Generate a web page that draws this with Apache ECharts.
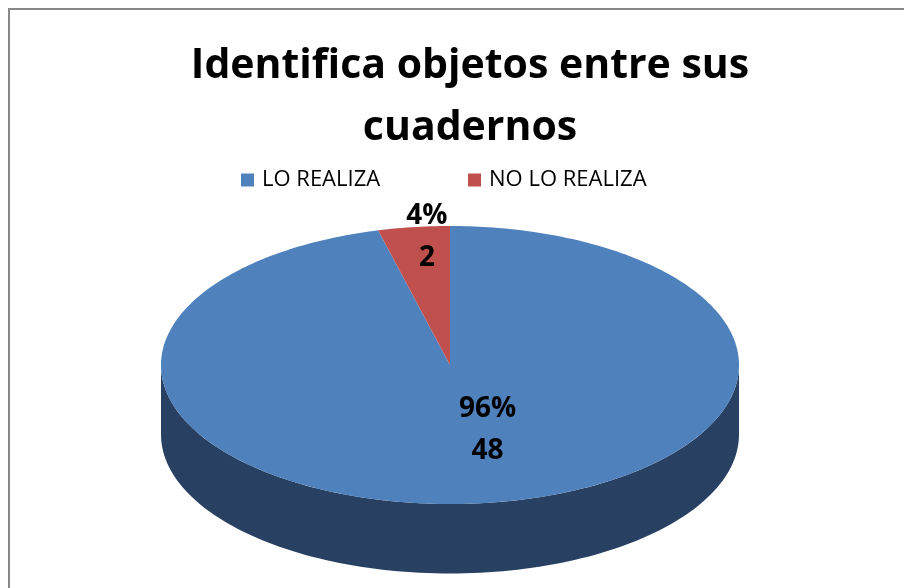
<!DOCTYPE html>
<html>
<head>
<meta charset="utf-8">
<script src="https://cdn.jsdelivr.net/npm/echarts@6/dist/echarts.min.js"></script>
<style>
  html, body { margin: 0; padding: 0; background: #fff; }
  #chart { width: 904px; height: 588px; }
</style>
</head>
<body>
<div id="chart"></div>
<script>
const categories = ['LO REALIZA', 'NO LO REALIZA'];
const values = [48, 2];

const total = values.reduce((a, b) => a + b, 0);
const topColors = ['#4F81BD', '#C0504D'];
const sideColors = ['#284162', '#7a2f2d'];
const depth = 0.5; // grosor del cilindro en unidades del eje y
// posicion de las etiquetas (unidades de los ejes)
const labelPos = [[0.13, -0.47], [-0.08, 0.92]];

const chartDom = document.getElementById('chart');
const myChart = echarts.init(chartDom);

function sliceAngles(idx) {
  let before = 0;
  for (let i = 0; i < idx; i++) before += values[i];
  const a0 = (before / total) * Math.PI * 2;
  const a1 = ((before + values[idx]) / total) * Math.PI * 2;
  return [a0, a1];
}

function renderSlice(params, api) {
  const idx = api.value(0);
  const [a0, a1] = sliceAngles(idx);
  const pt = (t, dz) => api.coord([Math.sin(t), Math.cos(t) - (dz || 0)]);
  const children = [];

  // pared lateral (solo la mitad de adelante)
  const s0 = Math.max(a0, Math.PI / 2);
  const s1 = Math.min(a1, Math.PI * 1.5);
  if (s1 > s0) {
    const upper = [];
    const lower = [];
    const n = 120;
    for (let k = 0; k <= n; k++) {
      const t = s0 + ((s1 - s0) * k) / n;
      upper.push(pt(t));
      lower.push(pt(t, depth));
    }
    children.push({
      type: 'polygon',
      shape: { points: upper.concat(lower.reverse()) },
      style: { fill: sideColors[idx] },
    });
  }

  // cara superior
  const top = [api.coord([0, 0])];
  const n = Math.max(4, Math.round((a1 - a0) * 60));
  for (let k = 0; k <= n; k++) {
    top.push(pt(a0 + ((a1 - a0) * k) / n));
  }
  children.push({
    type: 'polygon',
    shape: { points: top },
    style: { fill: topColors[idx] },
  });

  // etiqueta
  const lp = api.coord(labelPos[idx]);
  children.push({
    type: 'text',
    x: lp[0],
    y: lp[1],
    style: {
      text: Math.round((values[idx] / total) * 100) + '%\n' + values[idx],
      fill: '#000',
      font: 'bold 28px "Open Sans"',
      lineHeight: 42,
      align: 'center',
      verticalAlign: 'middle',
    },
  });

  return { type: 'group', children: children };
}

const legendText = { fontFamily: 'Open Sans', fontSize: 22, color: '#000', padding: [0, 0, 0, 3] };

let option = {
  animation: false,
  title: {
    text: 'Identifica objetos entre sus\ncuadernos',
    left: 465,
    top: 30,
    textAlign: 'center',
    textStyle: {
      fontFamily: 'Open Sans',
      fontSize: 41,
      fontWeight: 'bold',
      color: '#000',
      lineHeight: 62,
    },
  },
  legend: [
    {
      data: [categories[0]],
      left: 241,
      top: 169,
      padding: 0,
      icon: 'rect',
      itemWidth: 13,
      itemHeight: 13,
      textStyle: legendText,
    },
    {
      data: [categories[1]],
      left: 468,
      top: 169,
      padding: 0,
      icon: 'rect',
      itemWidth: 13,
      itemHeight: 13,
      textStyle: legendText,
    },
  ],
  grid: { left: 161, width: 578, top: 226, height: 278 },
  xAxis: { type: 'value', min: -1, max: 1, show: false },
  yAxis: { type: 'value', min: -1, max: 1, show: false },
  graphic: [
    {
      type: 'rect',
      shape: { x: 9, y: 9, width: 1000, height: 1000 },
      style: { fill: 'none', stroke: '#888', lineWidth: 2 },
      z: -10,
    },
  ],
  series: categories.map((name, i) => ({
    name: name,
    type: 'custom',
    clip: false,
    itemStyle: { color: topColors[i] },
    renderItem: renderSlice,
    data: [[i]],
  })),
};

myChart.setOption(option);
</script>
</body>
</html>
